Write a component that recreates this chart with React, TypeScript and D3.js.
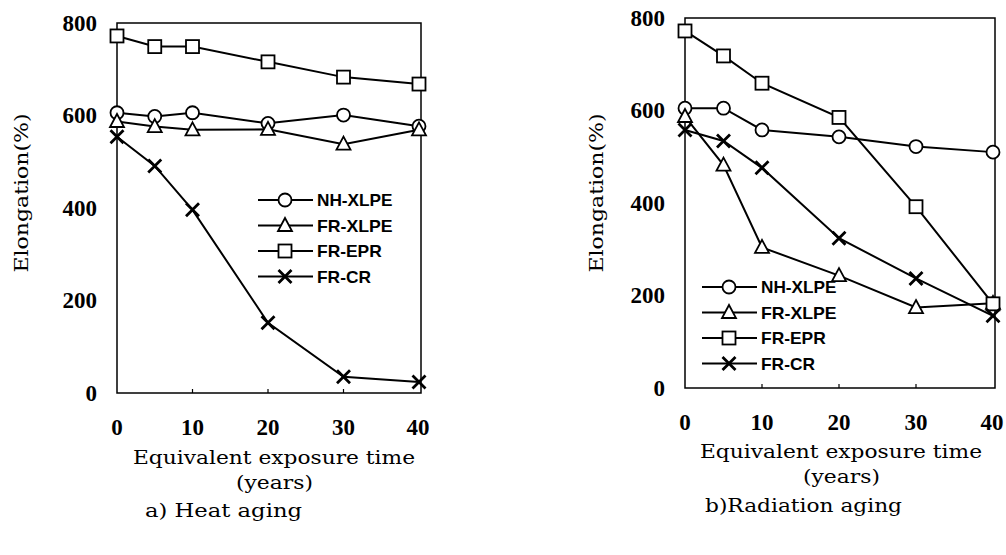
import React, { useEffect, useRef } from "react";
import * as d3 from "d3";

const years = [0, 5, 10, 20, 30, 40];
const seriesNames = ["NH-XLPE", "FR-XLPE", "FR-EPR", "FR-CR"];
const seriesMarkers = ["circle", "triangle", "square", "cross"];

// a) Heat aging
const heatNhXlpe = [606, 598, 606, 583, 601, 577];
const heatFrXlpe = [587, 576, 569, 570, 538, 569];
const heatFrEpr = [772, 749, 749, 716, 683, 668];
const heatFrCr = [554, 491, 396, 152, 35, 24];

// b) Radiation aging
const radNhXlpe = [605, 605, 558, 543, 522, 510];
const radFrXlpe = [587, 482, 304, 243, 174, 183];
const radFrEpr = [772, 718, 659, 585, 392, 182];
const radFrCr = [558, 534, 476, 324, 237, 156];

const yTicks = [0, 200, 400, 600, 800];
const xTicks = [0, 10, 20, 30, 40];

const serif = "'DejaVu Serif', 'Liberation Serif', serif";
const digitFont = "'Liberation Serif', serif";

type Panel = {
  x0: number;
  x1: number;
  y0: number;
  y1: number;
  data: number[][];
  legendX: number;
  legendY: number;
  yTitleX: number;
  xTitleX: number;
  xTitleY: number;
  caption: string;
  captionX: number;
  captionY: number;
  captionLen: number;
};

const panels: Panel[] = [
  {
    x0: 117, x1: 419, y0: 393, y1: 23,
    data: [heatNhXlpe, heatFrXlpe, heatFrEpr, heatFrCr],
    legendX: 258, legendY: 200,
    yTitleX: 22, xTitleX: 274, xTitleY: 464,
    caption: "a) Heat aging", captionX: 145, captionY: 517, captionLen: 157,
  },
  {
    x0: 685, x1: 993, y0: 388, y1: 18,
    data: [radNhXlpe, radFrXlpe, radFrEpr, radFrCr],
    legendX: 702, legendY: 287,
    yTitleX: 597, xTitleX: 841, xTitleY: 458,
    caption: "b)Radiation aging", captionX: 705, captionY: 512, captionLen: 197,
  },
];

function drawMarker(g: any, kind: string, cx: number, cy: number) {
  if (kind === "circle") {
    g.append("circle").attr("cx", cx).attr("cy", cy).attr("r", 6.5)
      .attr("fill", "#fff").attr("stroke", "#000").attr("stroke-width", 1.8);
  } else if (kind === "square") {
    g.append("rect").attr("x", cx - 6.5).attr("y", cy - 6.5)
      .attr("width", 13).attr("height", 13)
      .attr("fill", "#fff").attr("stroke", "#000").attr("stroke-width", 1.8);
  } else if (kind === "triangle") {
    g.append("path")
      .attr("d", `M${cx},${cy - 7.5}L${cx + 7},${cy + 5.5}L${cx - 7},${cy + 5.5}Z`)
      .attr("fill", "#fff").attr("stroke", "#000").attr("stroke-width", 1.8);
  } else {
    g.append("path")
      .attr("d", `M${cx - 6.5},${cy - 6.5}L${cx + 6.5},${cy + 6.5}M${cx + 6.5},${cy - 6.5}L${cx - 6.5},${cy + 6.5}`)
      .attr("stroke", "#000").attr("stroke-width", 2.8);
  }
}

const App = () => {
  const ref = useRef<SVGSVGElement>(null);

  useEffect(() => {
    const svg = d3.select(ref.current);
    svg.selectAll("*").remove();

    panels.forEach((p) => {
      const x = d3.scaleLinear().domain([0, 40]).range([p.x0, p.x1]);
      const y = d3.scaleLinear().domain([0, 800]).range([p.y0, p.y1]);
      const g = svg.append("g");

      // frame
      g.append("rect")
        .attr("x", x(0)).attr("y", y(800))
        .attr("width", x(40) - x(0) + 2).attr("height", y(0) - y(800))
        .attr("fill", "none").attr("stroke", "#000").attr("stroke-width", 1.5);

      // inner ticks on the bottom edge
      g.selectAll(".xt").data(xTicks.slice(1, -1)).join("line")
        .attr("x1", (d) => x(d)).attr("x2", (d) => x(d))
        .attr("y1", y(0)).attr("y2", y(0) - 4)
        .attr("stroke", "#000").attr("stroke-width", 1.2);

      // tick labels
      g.selectAll(".yl").data(yTicks).join("text")
        .attr("x", x(0) - 20).attr("y", (d) => y(d))
        .attr("dy", "0.34em").attr("text-anchor", "end")
        .attr("font-family", digitFont).attr("font-size", 23).attr("font-weight", "bold")
        .text((d) => d);
      g.selectAll(".xl").data(xTicks).join("text")
        .attr("x", (d) => (d === 40 ? x(d) - 1 : x(d))).attr("y", y(0) + 42)
        .attr("text-anchor", "middle")
        .attr("font-family", digitFont).attr("font-size", 23).attr("font-weight", "bold")
        .text((d) => d);

      // axis titles
      g.append("text")
        .attr("transform", `translate(${p.yTitleX},193) rotate(-90)`)
        .attr("dy", "0.35em").attr("text-anchor", "middle")
        .attr("font-family", serif).attr("font-size", 18)
        .attr("textLength", 159).attr("lengthAdjust", "spacingAndGlyphs")
        .text("Elongation(%)");
      g.append("text")
        .attr("x", p.xTitleX - 141).attr("y", p.xTitleY)
        .attr("font-family", serif).attr("font-size", 19)
        .attr("textLength", 282).attr("lengthAdjust", "spacingAndGlyphs")
        .text("Equivalent exposure time");
      g.append("text")
        .attr("x", p.xTitleX - 38).attr("y", p.xTitleY + 25)
        .attr("font-family", serif).attr("font-size", 19)
        .attr("textLength", 77).attr("lengthAdjust", "spacingAndGlyphs")
        .text("(years)");
      g.append("text")
        .attr("x", p.captionX).attr("y", p.captionY)
        .attr("font-family", serif).attr("font-size", 19)
        .attr("textLength", p.captionLen).attr("lengthAdjust", "spacingAndGlyphs")
        .text(p.caption);

      // series
      const line = d3.line<number>()
        .x((_, i) => x(years[i]))
        .y((d) => y(d));
      p.data.forEach((vals) => {
        g.append("path").attr("d", line(vals))
          .attr("fill", "none").attr("stroke", "#000").attr("stroke-width", 2);
      });
      p.data.forEach((vals, si) => {
        vals.forEach((v, i) => drawMarker(g, seriesMarkers[si], x(years[i]), y(v)));
      });

      // legend
      seriesNames.forEach((name, si) => {
        const ly = p.legendY + si * 25.5;
        g.append("line")
          .attr("x1", p.legendX).attr("x2", p.legendX + 55)
          .attr("y1", ly).attr("y2", ly)
          .attr("stroke", "#000").attr("stroke-width", 2);
        drawMarker(g, seriesMarkers[si], p.legendX + 27, ly);
        g.append("text")
          .attr("x", p.legendX + 59).attr("y", ly).attr("dy", "0.36em")
          .attr("font-family", "'Liberation Sans', Arial, sans-serif")
          .attr("font-weight", "bold").attr("font-size", 17)
          .attr("textLength", name.length * 10.8)
          .attr("lengthAdjust", "spacingAndGlyphs")
          .text(name);
      });
    });
  }, []);

  return (
    <svg
      ref={ref}
      width={1006}
      height={555}
      style={{ position: "absolute", left: 0, top: 0, background: "#fff" }}
    ></svg>
  );
};

export default App;
